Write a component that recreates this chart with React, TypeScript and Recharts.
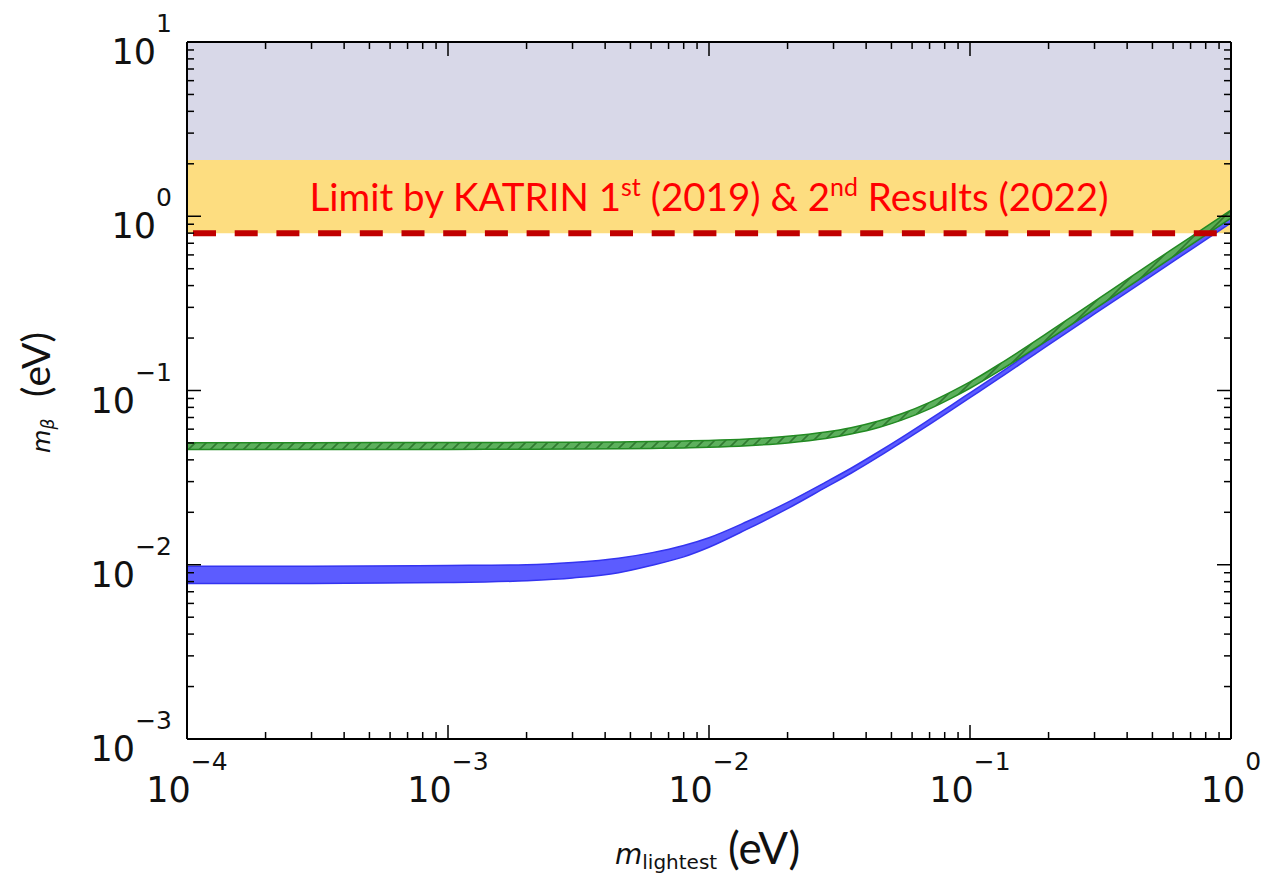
import { ComposedChart, Area, XAxis, YAxis, ReferenceArea, ReferenceLine } from "recharts";

// m_lightest (eV) sample points
const mLightest = [1e-4, 3e-4, 1e-3, 2e-3, 3e-3, 4.5e-3, 6e-3, 8e-3, 1e-2, 1.4e-2, 2e-2, 2.8e-2, 3.5e-2, 4.5e-2, 5.5e-2, 7e-2, 8.5e-2, 0.1, 0.13, 0.2, 0.3, 0.5, 0.7, 1.0];

// normal ordering band (blue)
const normalLow = [0.0078, 0.0078, 0.0079, 0.0081, 0.0084, 0.009, 0.0099, 0.0111, 0.0126, 0.016, 0.021, 0.0278, 0.0335, 0.042, 0.0508, 0.064, 0.0775, 0.091, 0.118, 0.183, 0.275, 0.458, 0.642, 0.917];
const normalHigh = [0.0098, 0.0098, 0.0099, 0.01, 0.0103, 0.0109, 0.0117, 0.0129, 0.0143, 0.0177, 0.0228, 0.0298, 0.0358, 0.0448, 0.054, 0.0682, 0.0825, 0.097, 0.126, 0.196, 0.294, 0.49, 0.687, 0.98];

// inverted ordering band (green, hatched)
const invertedLow = [0.0458, 0.0458, 0.0459, 0.046, 0.0461, 0.0463, 0.0465, 0.0468, 0.0472, 0.0482, 0.05, 0.053, 0.0562, 0.0615, 0.0678, 0.0785, 0.0905, 0.103, 0.13, 0.196, 0.293, 0.488, 0.683, 0.975];
const invertedHigh = [0.0502, 0.0502, 0.0503, 0.0504, 0.0505, 0.0507, 0.051, 0.0513, 0.0517, 0.0527, 0.0546, 0.0578, 0.0612, 0.067, 0.0738, 0.0855, 0.0985, 0.112, 0.142, 0.216, 0.325, 0.543, 0.76, 1.087];

const xMajorTicks = [1e-4, 1e-3, 1e-2, 1e-1, 1];
const xTickExponents = ["−4", "−3", "−2", "−1", "0"];
const yMajorTicks = [1e-3, 1e-2, 1e-1, 1, 10];
const yTickExponents = ["−3", "−2", "−1", "0", "1"];
const minorSteps = [2, 3, 4, 5, 6, 7, 8, 9];

const katrinLimit = 0.8;
const previousLimit = 2.1;
const yMax = 10;

const withMinors = (majors: number[]) => {
  const out: number[] = [];
  majors.forEach((m, i) => {
    out.push(m);
    if (i < majors.length - 1) minorSteps.forEach((s) => out.push(m * s));
  });
  return out;
};
const xTicks = withMinors(xMajorTicks);
const yTicks = withMinors(yMajorTicks);

const data = mLightest.map((m, i) => ({
  m,
  normal: [normalLow[i], normalHigh[i]],
  inverted: [invertedLow[i], invertedHigh[i]],
}));

// frame of the plot area (chart margins + axis sizes)
const W = 1269;
const H = 874;
const LEFT = 187;
const RIGHT = 1231;
const TOP = 42;
const BOTTOM = 739;

const FONT_TICK = "DejaVu Sans";
const FONT_TEXT = "Lato";

function LeftTick({ y, payload }: any) {
  const i = yMajorTicks.indexOf(payload.value);
  const major = i >= 0;
  return (
    <g>
      <line x1={LEFT} x2={LEFT + (major ? 14 : 7)} y1={y} y2={y} stroke="#000" strokeWidth={1.5} />
      {major && (
        <text x={LEFT - 15} y={y + 22} textAnchor="end" fontFamily={FONT_TICK} fill="#111">
          <tspan fontSize={35}>10</tspan>
          <tspan fontSize={25} dy={-32}>{yTickExponents[i]}</tspan>
        </text>
      )}
    </g>
  );
}

function RightTick({ y, payload }: any) {
  const major = yMajorTicks.indexOf(payload.value) >= 0;
  return <line x1={RIGHT} x2={RIGHT - (major ? 14 : 7)} y1={y} y2={y} stroke="#000" strokeWidth={1.5} />;
}

function BottomTick({ x, payload }: any) {
  const i = xMajorTicks.indexOf(payload.value);
  const major = i >= 0;
  return (
    <g>
      <line x1={x} x2={x} y1={BOTTOM} y2={BOTTOM - (major ? 14 : 7)} stroke="#000" strokeWidth={1.5} />
      {major && (
        <text x={x} y={BOTTOM + 63} textAnchor="middle" fontFamily={FONT_TICK} fill="#111">
          <tspan fontSize={35}>10</tspan>
          <tspan fontSize={25} dy={-32}>{xTickExponents[i]}</tspan>
        </text>
      )}
    </g>
  );
}

function TopTick({ x, payload }: any) {
  const major = xMajorTicks.indexOf(payload.value) >= 0;
  return <line x1={x} x2={x} y1={TOP} y2={TOP + (major ? 14 : 7)} stroke="#000" strokeWidth={1.5} />;
}

const KatrinLabel = ({ viewBox }: any) => {
  const cx = viewBox.x + viewBox.width / 2;
  const cy = viewBox.y + viewBox.height / 2;
  return (
    <text x={cx} y={cy + 14} textAnchor="middle" fontFamily={FONT_TEXT} fontSize={38.5} fill="#ff0000">
      <tspan>Limit by KATRIN 1</tspan>
      <tspan fontSize={25} dy={-15}>st</tspan>
      <tspan dy={15}> (2019) &amp; 2</tspan>
      <tspan fontSize={25} dy={-15}>nd</tspan>
      <tspan dy={15}> Results (2022)</tspan>
    </text>
  );
};

const XTitle = () => (
  <text y={864} fill="#111">
    <tspan x={615} fontFamily={FONT_TICK} fontStyle="italic" fontSize={28}>m</tspan>
    <tspan fontFamily={FONT_TICK} fontSize={20} dy={5}>lightest</tspan>
    <tspan x={728} dy={-5} fontFamily={FONT_TEXT} fontSize={44}>(eV)</tspan>
  </text>
);

const YTitle = () => (
  <text transform="translate(50, 453) rotate(-90)" fill="#111">
    <tspan x={0} y={0} fontFamily={FONT_TICK} fontStyle="italic" fontSize={24}>m</tspan>
    <tspan fontFamily={FONT_TICK} fontStyle="italic" fontSize={17} dy={4}>β</tspan>
    <tspan x={56} dy={-4} fontFamily={FONT_TEXT} fontSize={39}>(eV)</tspan>
  </text>
);

export default function App() {
  return (
    <div style={{ position: "absolute", left: 0, top: 0, background: "#fff" }}>
      <ComposedChart
        width={W}
        height={H}
        data={data}
        margin={{ top: TOP - 1, right: W - RIGHT - 1, bottom: 0, left: 0 }}
      >
        <defs>
          <pattern id="ioHatch" patternUnits="userSpaceOnUse" width={11} height={11}>
            <rect width={11} height={11} fill="#4ea94e" />
            <path d="M0,11 L11,0 M-3,3 L3,-3 M8,14 L14,8" stroke="#1f6f1f" strokeWidth={1.6} />
          </pattern>
        </defs>
        <ReferenceArea y1={previousLimit} y2={yMax} fill="#d8d8e8" fillOpacity={1} stroke="none" ifOverflow="hidden" />
        <ReferenceArea
          y1={katrinLimit}
          y2={previousLimit}
          fill="#fddd80"
          fillOpacity={1}
          stroke="none"
          ifOverflow="hidden"
          label={<KatrinLabel />}
        />
        <Area
          dataKey="normal"
          type="monotone"
          fill="#5c5cff"
          fillOpacity={1}
          stroke="#3434f0"
          strokeWidth={1.5}
          isAnimationActive={false}
          dot={false}
          activeDot={false}
        />
        <Area
          dataKey="inverted"
          type="monotone"
          fill="url(#ioHatch)"
          fillOpacity={0.92}
          stroke="#228a22"
          strokeWidth={1.5}
          isAnimationActive={false}
          dot={false}
          activeDot={false}
        />
        <ReferenceLine
          y={katrinLimit}
          stroke="#c00000"
          strokeWidth={6}
          strokeDasharray="23 18.7"
          strokeDashoffset={35.7}
        />
        <XAxis
          dataKey="m"
          type="number"
          scale="log"
          domain={[1e-4, 1]}
          allowDataOverflow
          ticks={xTicks}
          interval={0}
          tick={<BottomTick />}
          tickLine={false}
          tickSize={0}
          tickMargin={0}
          height={H - BOTTOM}
          axisLine={{ stroke: "#000", strokeWidth: 2 }}
          label={{ content: () => <XTitle /> }}
        />
        <XAxis
          xAxisId="top"
          orientation="top"
          dataKey="m"
          type="number"
          scale="log"
          domain={[1e-4, 1]}
          allowDataOverflow
          ticks={xTicks}
          interval={0}
          tick={<TopTick />}
          tickLine={false}
          tickSize={0}
          tickMargin={0}
          height={1}
          axisLine={{ stroke: "#000", strokeWidth: 2 }}
        />
        <YAxis
          type="number"
          scale="log"
          domain={[1e-3, yMax]}
          allowDataOverflow
          ticks={yTicks}
          interval={0}
          tick={<LeftTick />}
          tickLine={false}
          tickSize={0}
          tickMargin={0}
          width={LEFT}
          axisLine={{ stroke: "#000", strokeWidth: 2 }}
          label={{ content: () => <YTitle /> }}
        />
        <YAxis
          yAxisId="right"
          orientation="right"
          type="number"
          scale="log"
          domain={[1e-3, yMax]}
          allowDataOverflow
          ticks={yTicks}
          interval={0}
          tick={<RightTick />}
          tickLine={false}
          tickSize={0}
          tickMargin={0}
          width={1}
          axisLine={{ stroke: "#000", strokeWidth: 2 }}
        />
      </ComposedChart>
    </div>
  );
}
